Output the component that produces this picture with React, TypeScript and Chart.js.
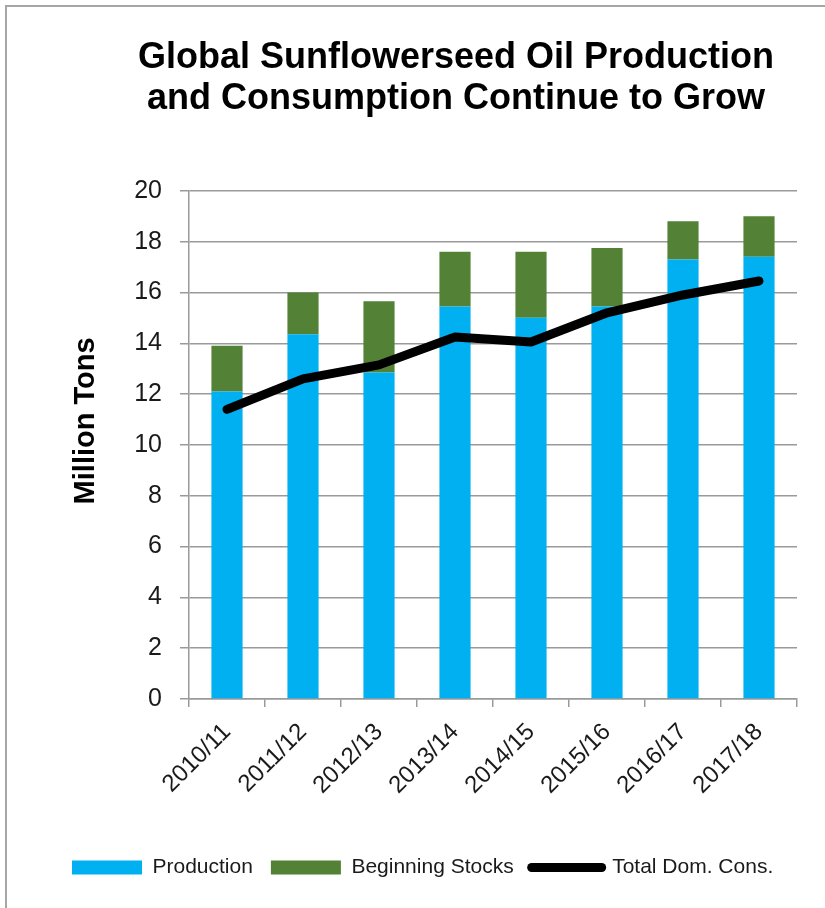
import React, { useEffect, useRef } from "react";
import { Chart, registerables } from "chart.js";

Chart.register(...registerables);

const categories = ["2010/11", "2011/12", "2012/13", "2013/14", "2014/15", "2015/16", "2016/17", "2017/18"];
const production = [12.1, 14.35, 12.85, 15.45, 15.0, 15.45, 17.3, 17.4];
const beginningStocks = [1.8, 1.65, 2.8, 2.15, 2.6, 2.3, 1.5, 1.6];
const totalDomCons = [11.4, 12.6, 13.15, 14.25, 14.05, 15.2, 15.9, 16.45];
const titleLines = ["Global Sunflowerseed Oil Production", "and Consumption Continue to Grow"];
const yTitle = "Million Tons";

const FONT = "'Liberation Sans', Arial, sans-serif";

// Shift only the title-carrying helper axis (no dataset uses it)
const shiftYTitle = {
  id: "shiftYTitle",
  afterLayout(chart: any) {
    const t = chart.scales.yTitleAxis;
    if (t) {
      t.top -= 24;
      t.bottom -= 24;
    }
  },
};

export default function App() {
  const ref = useRef<HTMLCanvasElement | null>(null);

  useEffect(() => {
    if (!ref.current) return;
    const chart = new Chart(ref.current, {
      type: "bar",
      plugins: [shiftYTitle],
      data: {
        labels: categories,
        datasets: [
          {
            type: "bar",
            label: "Production",
            data: production,
            backgroundColor: "#00B0F0",
            borderWidth: 0,
            stack: "bars",
            order: 2,
            barPercentage: 0.41,
            categoryPercentage: 1,
          },
          {
            type: "bar",
            label: "Beginning Stocks",
            data: beginningStocks,
            backgroundColor: "#538135",
            borderWidth: 0,
            stack: "bars",
            order: 2,
            barPercentage: 0.41,
            categoryPercentage: 1,
          },
          {
            type: "line",
            label: "Total Dom. Cons.",
            data: totalDomCons,
            borderColor: "#000000",
            backgroundColor: "#000000",
            borderWidth: 9,
            borderCapStyle: "round",
            borderJoinStyle: "round",
            pointRadius: 0,
            tension: 0,
            stack: "line",
            order: 1,
          } as any,
        ],
      },
      options: {
        animation: false,
        responsive: true,
        maintainAspectRatio: false,
        layout: { padding: { left: 0, right: 0, top: 0, bottom: 12 } },
        font: { family: FONT },
        plugins: {
          title: {
            display: true,
            text: titleLines,
            color: "#000",
            font: { family: FONT, size: 36, weight: "bold", lineHeight: 1.15 },
            padding: { top: 37, bottom: 71 },
          },
          legend: {
            position: "bottom",
            align: "start",
            labels: {
              usePointStyle: true,
              pointStyleWidth: 70,
              boxHeight: 14,
              padding: 18,
              color: "#1a1a1a",
              font: { family: FONT, size: 21 },
              sort: (a: any, b: any) => a.datasetIndex - b.datasetIndex,
              generateLabels: (c: any) => {
                const items = Chart.defaults.plugins.legend.labels.generateLabels(c);
                return items.map((it: any) => {
                  if (it.datasetIndex === 2) {
                    return { ...it, pointStyle: "line", lineWidth: 9, lineCap: "round", strokeStyle: "#000" };
                  }
                  return { ...it, pointStyle: "rect", lineWidth: 0 };
                });
              },
            },
          },
          tooltip: { enabled: false },
        },
        scales: {
          x: {
            stacked: true,
            afterFit: (s: any) => {
              s.height = 140;
            },
            grid: {
              offset: true,
              drawOnChartArea: false,
              drawTicks: true,
              tickLength: 8,
              color: "#9a9a9a",
              lineWidth: 1.5,
            },
            border: { color: "#9a9a9a", width: 1.5 },
            ticks: {
              color: "#1a1a1a",
              font: { family: FONT, size: 24 },
              maxRotation: 45,
              minRotation: 45,
              padding: 11,
              autoSkip: false,
            },
          },
          y: {
            stacked: true,
            min: 0,
            max: 20,
            weight: 0,
            afterFit: (s: any) => {
              s.width = 75;
            },
            ticks: {
              stepSize: 2,
              color: "#1a1a1a",
              font: { family: FONT, size: 25 },
              padding: 18,
            },
            grid: {
              color: "#9a9a9a",
              lineWidth: 1.5,
              drawTicks: true,
              tickLength: 9,
            },
            border: { color: "#9a9a9a", width: 1.5 },
          },
          yTitleAxis: {
            type: "linear",
            position: "left",
            display: true,
            weight: 1,
            min: 0,
            max: 1,
            afterFit: (s: any) => {
              s.width = 60;
            },
            grid: { display: false, drawTicks: false },
            border: { display: false },
            ticks: { display: false },
            title: {
              display: true,
              text: yTitle,
              color: "#000",
              font: { family: FONT, size: 29, weight: "bold", lineHeight: 1.2 },
              padding: { top: 15, bottom: 0 },
            },
          },
          yPad: {
            type: "linear",
            position: "right",
            display: true,
            min: 0,
            max: 1,
            afterFit: (s: any) => {
              s.width = 61;
            },
            grid: { display: false, drawTicks: false },
            border: { display: false },
            ticks: { display: false },
          },
        },
      },
    });
    return () => chart.destroy();
  }, []);

  return (
    <div style={{ position: "absolute", left: 0, top: 0, width: 825, height: 908, overflow: "hidden", background: "#fff" }}>
      <div
        style={{
          position: "absolute",
          left: 5,
          top: 5,
          width: 900,
          height: 960,
          borderLeft: "2px solid #a6a6a6",
          borderTop: "2px solid #a6a6a6",
        }}
      />
      <div style={{ position: "absolute", left: 54, top: 0, width: 804, height: 900 }}>
        <canvas ref={ref} />
      </div>
    </div>
  );
}
